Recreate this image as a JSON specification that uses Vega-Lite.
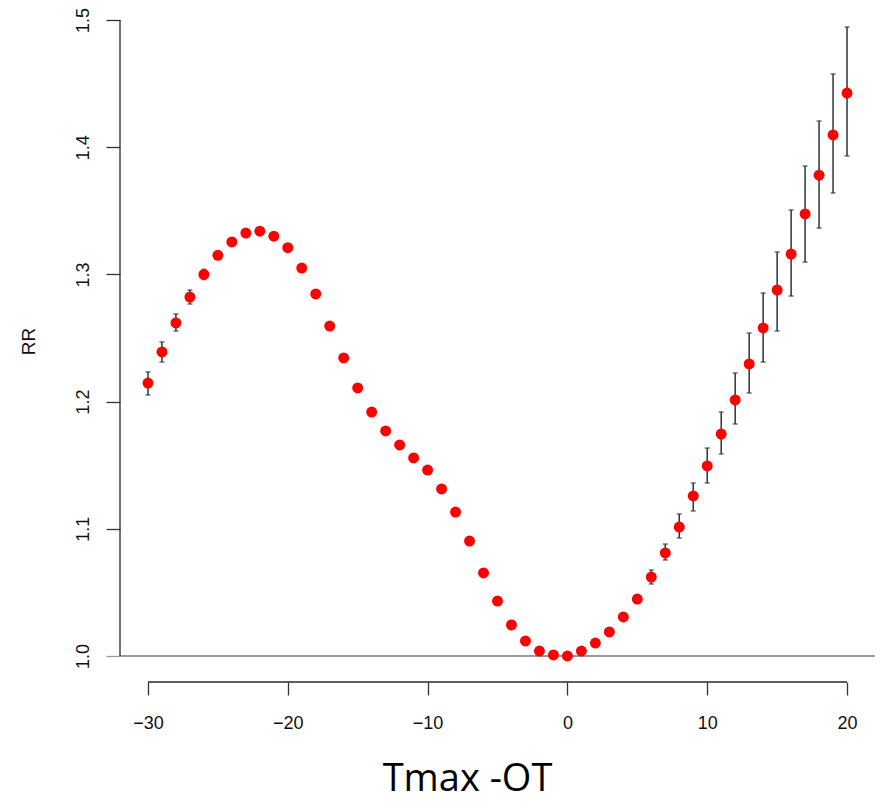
{
  "$schema": "https://vega.github.io/schema/vega-lite/v6.json",
  "width": 755,
  "height": 682,
  "autosize": "none",
  "padding": {"left": 120, "top": 0, "right": 8, "bottom": 120},
  "background": "white",
  "config": {
    "view": {"stroke": null},
    "axis": {"grid": false, "domain": false},
    "axisX": {
      "tickSize": 13, "tickWidth": 1.3, "tickColor": "#333333",
      "labelFont": "Liberation Sans", "labelFontSize": 18, "labelColor": "#111111",
      "labelPadding": 19, "labelFlush": false,
      "titleFont": "Open Sans", "titleFontSize": 38, "titleFontWeight": "normal", "titleColor": "#000000",
      "titleX": 347, "titleY": 108, "titleAlign": "center", "titleBaseline": "alphabetic"
    },
    "axisY": {
      "format": ".1f",
      "tickSize": 14, "tickWidth": 1.3,
      "tickColor": {"condition": {"test": "datum.value === 1", "value": "#9a9a9a"}, "value": "#333333"},
      "labelFont": "Liberation Sans", "labelFontSize": 18, "labelColor": "#111111",
      "labelAngle": -90, "labelAlign": "center", "labelBaseline": "alphabetic",
      "labelPadding": 18, "labelFlush": false,
      "titleFont": "Liberation Sans", "titleFontSize": 19, "titleFontWeight": "normal", "titleColor": "#111111",
      "titleAngle": -90, "titleX": -86, "titleY": 341, "titleAlign": "center", "titleBaseline": "alphabetic"
    }
  },
  "data": {"values": [
    {"x": -30, "rr": 1.2146, "lo": 1.2052, "hi": 1.2233},
    {"x": -29, "rr": 1.239, "lo": 1.2311, "hi": 1.2469},
    {"x": -28, "rr": 1.2618, "lo": 1.2555, "hi": 1.2689},
    {"x": -27, "rr": 1.2822, "lo": 1.2767, "hi": 1.2877},
    {"x": -26, "rr": 1.3, "lo": 1.296, "hi": 1.304},
    {"x": -25, "rr": 1.315, "lo": 1.312, "hi": 1.318},
    {"x": -24, "rr": 1.3255, "lo": 1.323, "hi": 1.328},
    {"x": -23, "rr": 1.3325, "lo": 1.33, "hi": 1.335},
    {"x": -22, "rr": 1.334, "lo": 1.332, "hi": 1.336},
    {"x": -21, "rr": 1.33, "lo": 1.328, "hi": 1.332},
    {"x": -20, "rr": 1.321, "lo": 1.319, "hi": 1.323},
    {"x": -19, "rr": 1.305, "lo": 1.303, "hi": 1.307},
    {"x": -18, "rr": 1.2846, "lo": 1.283, "hi": 1.2862},
    {"x": -17, "rr": 1.2594, "lo": 1.258, "hi": 1.261},
    {"x": -16, "rr": 1.2343, "lo": 1.233, "hi": 1.2356},
    {"x": -15, "rr": 1.2107, "lo": 1.2095, "hi": 1.212},
    {"x": -14, "rr": 1.1918, "lo": 1.1905, "hi": 1.193},
    {"x": -13, "rr": 1.1769, "lo": 1.1757, "hi": 1.178},
    {"x": -12, "rr": 1.1659, "lo": 1.1648, "hi": 1.167},
    {"x": -11, "rr": 1.1557, "lo": 1.1547, "hi": 1.1567},
    {"x": -10, "rr": 1.1462, "lo": 1.1452, "hi": 1.1472},
    {"x": -9, "rr": 1.1313, "lo": 1.1303, "hi": 1.1323},
    {"x": -8, "rr": 1.1132, "lo": 1.1122, "hi": 1.1142},
    {"x": -7, "rr": 1.0904, "lo": 1.0895, "hi": 1.0913},
    {"x": -6, "rr": 1.0653, "lo": 1.0645, "hi": 1.0661},
    {"x": -5, "rr": 1.0432, "lo": 1.0425, "hi": 1.0439},
    {"x": -4, "rr": 1.0244, "lo": 1.0238, "hi": 1.025},
    {"x": -3, "rr": 1.0118, "lo": 1.0113, "hi": 1.0123},
    {"x": -2, "rr": 1.0039, "lo": 1.0036, "hi": 1.0042},
    {"x": -1, "rr": 1.0008, "lo": 1.0006, "hi": 1.001},
    {"x": 0, "rr": 1.0, "lo": 1.0, "hi": 1.0},
    {"x": 1, "rr": 1.0039, "lo": 1.0036, "hi": 1.0042},
    {"x": 2, "rr": 1.0102, "lo": 1.0096, "hi": 1.0108},
    {"x": 3, "rr": 1.0189, "lo": 1.018, "hi": 1.0198},
    {"x": 4, "rr": 1.0307, "lo": 1.0295, "hi": 1.0319},
    {"x": 5, "rr": 1.0448, "lo": 1.0425, "hi": 1.047},
    {"x": 6, "rr": 1.0621, "lo": 1.0566, "hi": 1.0676},
    {"x": 7, "rr": 1.081, "lo": 1.0755, "hi": 1.088},
    {"x": 8, "rr": 1.1014, "lo": 1.0928, "hi": 1.1116},
    {"x": 9, "rr": 1.1258, "lo": 1.114, "hi": 1.136},
    {"x": 10, "rr": 1.1494, "lo": 1.136, "hi": 1.1635},
    {"x": 11, "rr": 1.1745, "lo": 1.1588, "hi": 1.1918},
    {"x": 12, "rr": 1.2013, "lo": 1.1824, "hi": 1.2225},
    {"x": 13, "rr": 1.2296, "lo": 1.2068, "hi": 1.2539},
    {"x": 14, "rr": 1.2579, "lo": 1.2311, "hi": 1.2854},
    {"x": 15, "rr": 1.2877, "lo": 1.2555, "hi": 1.3176},
    {"x": 16, "rr": 1.316, "lo": 1.283, "hi": 1.3506},
    {"x": 17, "rr": 1.3475, "lo": 1.3097, "hi": 1.3852},
    {"x": 18, "rr": 1.378, "lo": 1.3365, "hi": 1.4206},
    {"x": 19, "rr": 1.4096, "lo": 1.364, "hi": 1.4575},
    {"x": 20, "rr": 1.4426, "lo": 1.3931, "hi": 1.4945}
  ]},
  "layer": [
    {
      "data": {"values": [{}]},
      "mark": {"type": "rule", "color": "#9a9a9a", "strokeWidth": 2},
      "encoding": {
        "x": {"datum": -32, "type": "quantitative", "scale": {"domain": [-32, 22], "nice": false, "zero": false}, "title": "Tmax -OT", "axis": {"values": [-30, -20, -10, 0, 10, 20]}},
        "x2": {"datum": 22},
        "y": {"datum": 1.0, "type": "quantitative", "scale": {"domain": [0.97956, 1.51572], "nice": false, "zero": false}, "title": "RR", "axis": {"values": [1.0, 1.1, 1.2, 1.3, 1.4, 1.5]}}
      }
    },
    {
      "data": {"values": [{}]},
      "mark": {"type": "rule", "color": "#2a2a2a", "strokeWidth": 1.3},
      "encoding": {
        "x": {"datum": -32, "type": "quantitative", "scale": {"domain": [-32, 22], "nice": false, "zero": false}, "title": "Tmax -OT", "axis": {"values": [-30, -20, -10, 0, 10, 20]}},
        "y": {"datum": 1.0, "type": "quantitative", "scale": {"domain": [0.97956, 1.51572], "nice": false, "zero": false}, "title": "RR", "axis": {"values": [1.0, 1.1, 1.2, 1.3, 1.4, 1.5]}},
        "y2": {"datum": 1.5}
      }
    },
    {
      "data": {"values": [{}]},
      "mark": {"type": "rule", "color": "#2a2a2a", "strokeWidth": 1.3},
      "encoding": {
        "x": {"datum": -30, "type": "quantitative", "scale": {"domain": [-32, 22], "nice": false, "zero": false}, "title": "Tmax -OT", "axis": {"values": [-30, -20, -10, 0, 10, 20]}},
        "x2": {"datum": 20},
        "y": {"datum": 0.97956, "type": "quantitative", "scale": {"domain": [0.97956, 1.51572], "nice": false, "zero": false}, "title": "RR", "axis": {"values": [1.0, 1.1, 1.2, 1.3, 1.4, 1.5]}}
      }
    },
    {
      "mark": {"type": "errorbar", "color": "#333333", "thickness": 1.5, "ticks": {"size": 5, "thickness": 1.5}},
      "encoding": {
        "x": {"field": "x", "type": "quantitative", "scale": {"domain": [-32, 22], "nice": false, "zero": false}, "title": "Tmax -OT", "axis": {"values": [-30, -20, -10, 0, 10, 20]}},
        "y": {"field": "lo", "type": "quantitative", "scale": {"domain": [0.97956, 1.51572], "nice": false, "zero": false}, "title": "RR", "axis": {"values": [1.0, 1.1, 1.2, 1.3, 1.4, 1.5]}},
        "y2": {"field": "hi"}
      }
    },
    {
      "mark": {"type": "point", "filled": true, "shape": "circle", "color": "#ff0000", "size": 120, "opacity": 1},
      "encoding": {
        "x": {"field": "x", "type": "quantitative", "scale": {"domain": [-32, 22], "nice": false, "zero": false}, "title": "Tmax -OT", "axis": {"values": [-30, -20, -10, 0, 10, 20]}},
        "y": {"field": "rr", "type": "quantitative", "scale": {"domain": [0.97956, 1.51572], "nice": false, "zero": false}, "title": "RR", "axis": {"values": [1.0, 1.1, 1.2, 1.3, 1.4, 1.5]}}
      }
    }
  ]
}
